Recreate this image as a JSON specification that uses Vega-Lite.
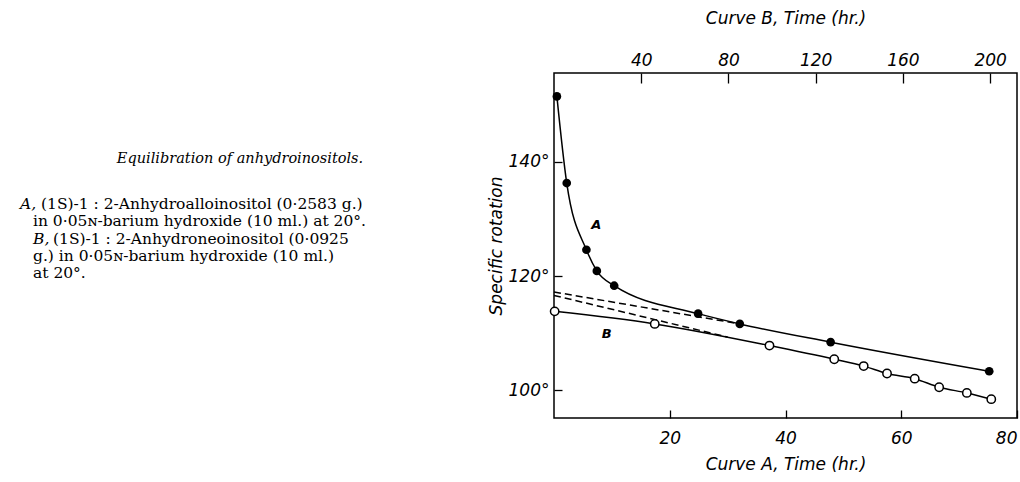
{
  "$schema": "https://vega.github.io/schema/vega-lite/v6.json",
  "background": "white",
  "padding": {"left": 5, "right": 0, "top": 8, "bottom": 0},
  "spacing": 0,
  "config": {"view": {"stroke": null}},
  "hconcat": [
    {
      "width": 481,
      "height": 345,
      "data": {"values": [
        {"line": 0, "x": 235, "text": "Equilibration of anhydroinositols.", "kind": "title"},
        {"line": 2.6, "x": 15, "text": "A,", "kind": "it"},
        {"line": 2.6, "x": 36, "text": "(1S)-1 : 2-Anhydroalloinositol (0·2583 g.)", "kind": "rm"},
        {"line": 3.6, "x": 28, "text": "in 0·05ɴ-barium hydroxide (10 ml.) at 20°.", "kind": "rm"},
        {"line": 4.6, "x": 28, "text": "B,", "kind": "it"},
        {"line": 4.6, "x": 48, "text": "(1S)-1 : 2-Anhydroneoinositol (0·0925", "kind": "rm"},
        {"line": 5.6, "x": 28, "text": "g.) in 0·05ɴ-barium hydroxide (10 ml.)", "kind": "rm"},
        {"line": 6.6, "x": 28, "text": "at 20°.", "kind": "rm"}
      ]},
      "encoding": {
        "x": {"field": "x", "type": "quantitative", "scale": {"domain": [0, 481]}, "axis": null},
        "y": {"field": "line", "type": "quantitative", "scale": {"domain": [-5, 15], "reverse": true}, "axis": null},
        "text": {"field": "text"}
      },
      "layer": [
        {"transform": [{"filter": "datum.kind === 'title'"}],
         "mark": {"type": "text", "font": "DejaVu Serif", "fontSize": 14.5, "fontStyle": "italic", "align": "center", "baseline": "middle", "color": "black"}},
        {"transform": [{"filter": "datum.kind === 'it'"}],
         "mark": {"type": "text", "font": "DejaVu Serif", "fontSize": 15.5, "fontStyle": "italic", "align": "left", "baseline": "middle", "color": "black"}},
        {"transform": [{"filter": "datum.kind === 'rm'"}],
         "mark": {"type": "text", "font": "DejaVu Serif", "fontSize": 15.5, "align": "left", "baseline": "middle", "color": "black"}}
      ]
    },
    {
      "width": 463,
      "height": 345,
      "view": {"stroke": "black", "strokeWidth": 1.5},
      "layer": [
        {
          "data": {"values": [
            {"series": "A", "tA": 0.5, "rot": 151.5},
            {"series": "A", "tA": 2.2, "rot": 136.3},
            {"series": "A", "tA": 5.6, "rot": 124.6},
            {"series": "A", "tA": 7.4, "rot": 120.9},
            {"series": "A", "tA": 10.4, "rot": 118.3},
            {"series": "A", "tA": 24.9, "rot": 113.4},
            {"series": "A", "tA": 32.1, "rot": 111.6},
            {"series": "A", "tA": 47.8, "rot": 108.4},
            {"series": "A", "tA": 75.2, "rot": 103.3},
            {"series": "dashA", "tA": 0, "rot": 117.2},
            {"series": "dashA", "tA": 32.1, "rot": 111.6},
            {"series": "dashB", "tA": 0, "rot": 116.6},
            {"series": "dashB", "tA": 30, "rot": 109.3},
            {"series": "label", "tA": 7.3, "rot": 128.9, "label": "A"},
            {"series": "label", "tA": 9.1, "rot": 109.9, "label": "B"}
          ]},
          "encoding": {
            "x": {"field": "tA", "type": "quantitative",
                  "scale": {"domain": [0, 80], "nice": false, "zero": false},
                  "axis": {"orient": "bottom", "values": [20, 40, 60, 80], "title": "Curve A, Time (hr.)",
                           "domain": false, "grid": false, "tickSize": -8, "tickColor": "black", "tickWidth": 1.3,
                           "labelPadding": 20, "labelFlush": true,
                           "labelFont": "DejaVu Sans", "labelFontStyle": "italic", "labelFontSize": 17, "labelColor": "black",
                           "titleFont": "DejaVu Sans", "titleFontStyle": "italic", "titleFontWeight": "normal", "titleFontSize": 17,
                           "titleColor": "black", "titlePadding": 10}},
            "y": {"field": "rot", "type": "quantitative",
                  "scale": {"domain": [95.1, 155.6], "nice": false, "zero": false},
                  "axis": {"orient": "left", "values": [100, 120, 140], "labelExpr": "datum.value + '°'",
                           "title": "Specific rotation",
                           "domain": false, "grid": false, "tickSize": -8, "tickColor": "black", "tickWidth": 1.3,
                           "labelPadding": 13,
                           "labelFont": "DejaVu Sans", "labelFontStyle": "italic", "labelFontSize": 17, "labelColor": "black",
                           "titleFont": "DejaVu Sans", "titleFontStyle": "italic", "titleFontWeight": "normal", "titleFontSize": 17,
                           "titleColor": "black", "titlePadding": 3}}
          },
          "layer": [
            {"transform": [{"filter": "datum.series === 'A'"}],
             "mark": {"type": "line", "interpolate": "monotone", "color": "black", "strokeWidth": 1.5}},
            {"transform": [{"filter": "datum.series === 'dashA' || datum.series === 'dashB'"}],
             "mark": {"type": "line", "color": "black", "strokeWidth": 1.5, "strokeDash": [7, 4]},
             "encoding": {"detail": {"field": "series"}}},
            {"transform": [{"filter": "datum.series === 'A'"}],
             "mark": {"type": "point", "shape": "circle", "filled": true, "color": "black", "size": 75, "opacity": 1}},
            {"transform": [{"filter": "datum.series === 'label'"}],
             "mark": {"type": "text", "font": "DejaVu Sans", "fontStyle": "italic", "fontWeight": "bold", "fontSize": 13, "color": "black"},
             "encoding": {"text": {"field": "label"}}}
          ]
        },
        {
          "data": {"values": [
            {"tB": 0.3, "rot": 113.8},
            {"tB": 46.2, "rot": 111.6},
            {"tB": 98.8, "rot": 107.8},
            {"tB": 128.5, "rot": 105.4},
            {"tB": 142, "rot": 104.2},
            {"tB": 152.7, "rot": 102.9},
            {"tB": 165.4, "rot": 102.0},
            {"tB": 176.6, "rot": 100.5},
            {"tB": 189.3, "rot": 99.5},
            {"tB": 200.5, "rot": 98.4}
          ]},
          "encoding": {
            "x": {"field": "tB", "type": "quantitative",
                  "scale": {"domain": [0, 212.3], "nice": false, "zero": false},
                  "axis": {"orient": "top", "values": [40, 80, 120, 160, 200], "title": "Curve B, Time (hr.)",
                           "domain": false, "grid": false, "tickSize": -10, "tickColor": "black", "tickWidth": 1.3,
                           "labelPadding": 14,
                           "labelFont": "DejaVu Sans", "labelFontStyle": "italic", "labelFontSize": 17, "labelColor": "black",
                           "titleFont": "DejaVu Sans", "titleFontStyle": "italic", "titleFontWeight": "normal", "titleFontSize": 17,
                           "titleColor": "black", "titlePadding": 24}},
            "y": {"field": "rot", "type": "quantitative"}
          },
          "layer": [
            {"mark": {"type": "line", "interpolate": "monotone", "color": "black", "strokeWidth": 1.5}},
            {"mark": {"type": "point", "shape": "circle", "filled": true, "fill": "white", "stroke": "black", "strokeWidth": 1.5, "size": 70, "opacity": 1}}
          ]
        }
      ],
      "resolve": {"scale": {"x": "independent"}}
    }
  ]
}
